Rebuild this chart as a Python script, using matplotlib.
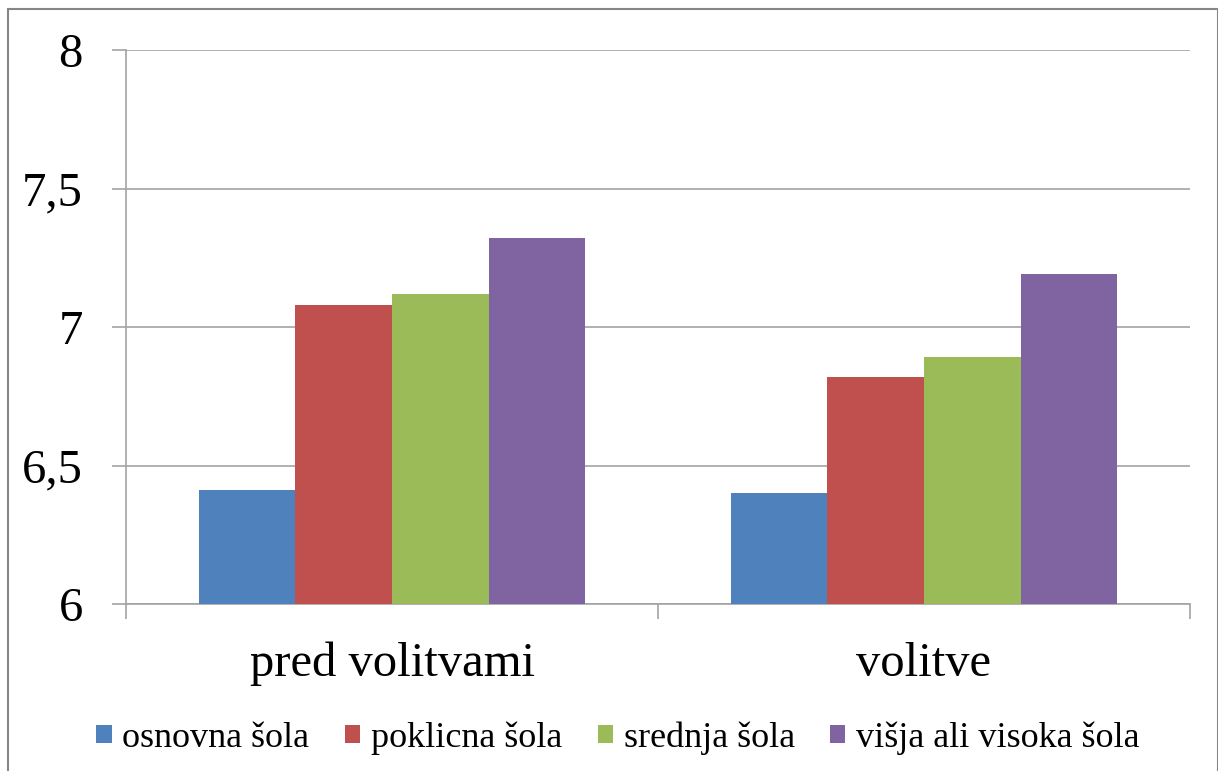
import matplotlib
matplotlib.use("Agg")
from matplotlib import pyplot as plt
from matplotlib.patches import Patch, Rectangle
from matplotlib.ticker import FixedLocator, FuncFormatter
import numpy as np

plt.rcParams['font.family'] = ['Liberation Serif', 'DejaVu Serif']

categories = ["pred volitvami", "volitve"]
series_names = ["osnovna šola", "poklicna šola", "srednja šola", "višja ali visoka šola"]
osnovna = [6.41, 6.40]
poklicna = [7.08, 6.82]
srednja = [7.12, 6.89]
visja = [7.32, 7.19]
y_ticks = [6, 6.5, 7, 7.5, 8]

series = [osnovna, poklicna, srednja, visja]
colors = ["#4F81BD", "#C0504D", "#9BBB59", "#8064A2"]
grid_col = "#a3a3a3"

fig = plt.figure(figsize=(12.18, 7.71), dpi=100)
ax = fig.add_axes([126/1218, 1-604/771, (1190-126)/1218, (604-50)/771])

x = np.arange(len(categories))
w = 1/5.5
for i, (vals, c) in enumerate(zip(series, colors)):
    ax.bar(x + (i-1.5)*w, np.array(vals)-6, width=w, bottom=6, color=c,
           edgecolor="none", zorder=3, label=series_names[i])

ax.set_xlim(-0.5, 1.5)
ax.set_ylim(6, 8)
ax.set_yticks(y_ticks)
ax.yaxis.set_major_formatter(FuncFormatter(lambda v, p: ("%g" % v).replace(".", ",")))
ax.yaxis.grid(True, color=grid_col, lw=1.2, zorder=0)
ax.tick_params(axis="y", length=10, width=1.2, color=grid_col, pad=21, labelsize=35)

ax.set_xticks(x)
ax.set_xticklabels(categories)
ax.xaxis.set_minor_locator(FixedLocator([-0.5, 0.5, 1.5]))
ax.tick_params(axis="x", which="major", length=0, pad=27, labelsize=35)
ax.tick_params(axis="x", which="minor", length=11, width=1.2, color=grid_col)

for s in ["top", "right"]:
    ax.spines[s].set_visible(False)
for s in ["left", "bottom"]:
    ax.spines[s].set_color(grid_col)
    ax.spines[s].set_linewidth(1.2)

handles = [Patch(facecolor=c, edgecolor="none") for c in colors]
fig.legend(handles, series_names, loc="center", bbox_to_anchor=(618/1218, 1-738/771),
           ncol=4, frameon=False, fontsize=26, handlelength=0.42, handleheight=0.42,
           handletextpad=0.3, columnspacing=0.98, borderpad=0)

fig.patches.append(Rectangle((7.5/1218, -0.05), (1217.5-7.5)/1218, 1.05-9.5/771,
                             transform=fig.transFigure, fill=False,
                             edgecolor="#868686", lw=1.5))

fig.savefig("out.png", dpi=100)
